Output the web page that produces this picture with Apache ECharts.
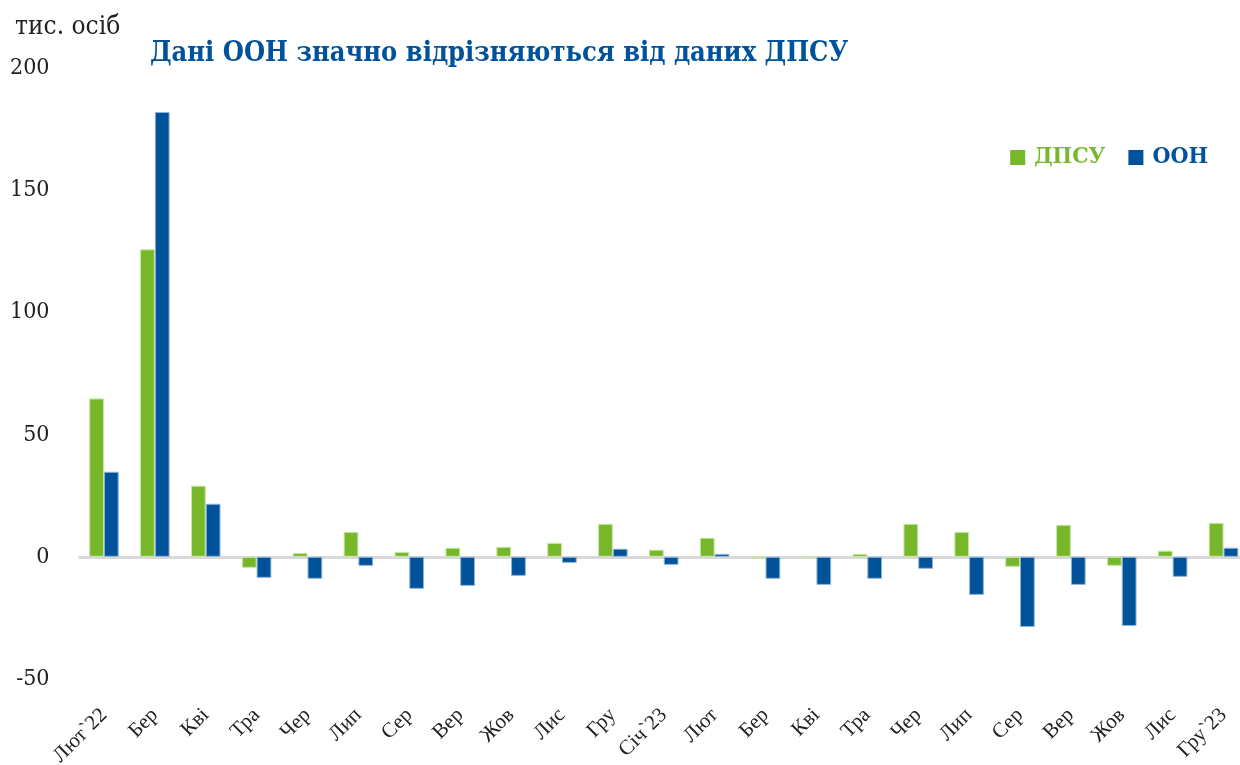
<!DOCTYPE html>
<html><head><meta charset="utf-8">
<script src="https://cdn.jsdelivr.net/npm/echarts@6/dist/echarts.min.js"></script>
<style>html,body{margin:0;padding:0;background:#fff}#c{width:1240px;height:765px}</style>
</head><body><div id="c"></div>
<script>
const categories = ['Лют`22','Бер','Кві','Тра','Чер','Лип','Сер','Вер','Жов','Лис','Гру','Січ`23','Лют','Бер','Кві','Тра','Чер','Лип','Сер','Вер','Жов','Лис','Гру`23'];
const dpsu = [64.8,125.8,29.1,-4.5,1.6,10.2,2.0,3.7,4.1,5.7,13.5,2.9,7.8,-0.8,-0.3,1.2,13.5,10.2,-4.1,13.1,-3.7,2.5,13.9];
const oon  = [34.8,182.0,21.7,-8.6,-9.0,-3.7,-13.1,-11.9,-7.8,-2.5,3.3,-3.3,1.2,-9.0,-11.5,-9.0,-4.9,-15.6,-28.7,-11.5,-28.3,-8.2,3.7];
const yTicks = [-50,0,50,100,150,200];
const serif = '"DejaVu Serif Condensed", "DejaVu Serif", serif';
const times = '"Liberation Serif", "DejaVu Serif", serif';

const chart = echarts.init(document.getElementById('c'));
chart.setOption({
  animation:false,
  backgroundColor:'#fff',
  title:[
    {text:'Дані ООН значно відрізняються від даних ДПСУ', left:145, top:35,
     textStyle:{fontFamily:serif, fontWeight:'bold', fontSize:27, color:'#00529b'}},
    {text:'тис. осіб', left:10, top:9, textStyle:{fontFamily:serif, fontWeight:'normal', fontSize:26, color:'#222'}}
  ],
  legend:{
    right:27, top:141, itemWidth:15, itemHeight:15, itemGap:23, icon:'rect',
    itemStyle:{borderWidth:0},
    textStyle:{fontFamily:serif, fontWeight:'bold', fontSize:23, padding:[0,0,0,4]},
    data:[{name:'ДПСУ', textStyle:{color:'#76b82a'}},{name:'ООН', textStyle:{color:'#00529b'}}]
  },
  grid:{left:78.5, right:-9, top:68, bottom:86, containLabel:false, outerBoundsMode:'none'},
  xAxis:{
    type:'category', data:categories,
    axisLine:{show:false}, axisTick:{show:false},
    axisLabel:{rotate:45, interval:0, fontFamily:times, fontSize:21, color:'#222', margin:33}
  },
  yAxis:{
    type:'value', min:yTicks[0], max:yTicks[yTicks.length-1], interval:50,
    splitLine:{show:false}, axisLine:{show:false}, axisTick:{show:false},
    axisLabel:{fontFamily:serif, fontSize:23, color:'#222', margin:29}
  },
  series:[
    {name:'ДПСУ', type:'bar', data:dpsu, barGap:'0%', barCategoryGap:'42%',
     itemStyle:{color:'#76b82a', borderColor:'#c8e6a8', borderWidth:1}},
    {name:'ООН', type:'bar', data:oon, barGap:'0%', barCategoryGap:'42%',
     itemStyle:{color:'#00529b', borderColor:'#8fb3d6', borderWidth:1},
     markLine:{silent:true, symbol:'none', label:{show:false},
       lineStyle:{color:'#d9d9d9', width:3, type:'solid'}, data:[{yAxis:0}], z:0}}
  ]
});
</script></body></html>
